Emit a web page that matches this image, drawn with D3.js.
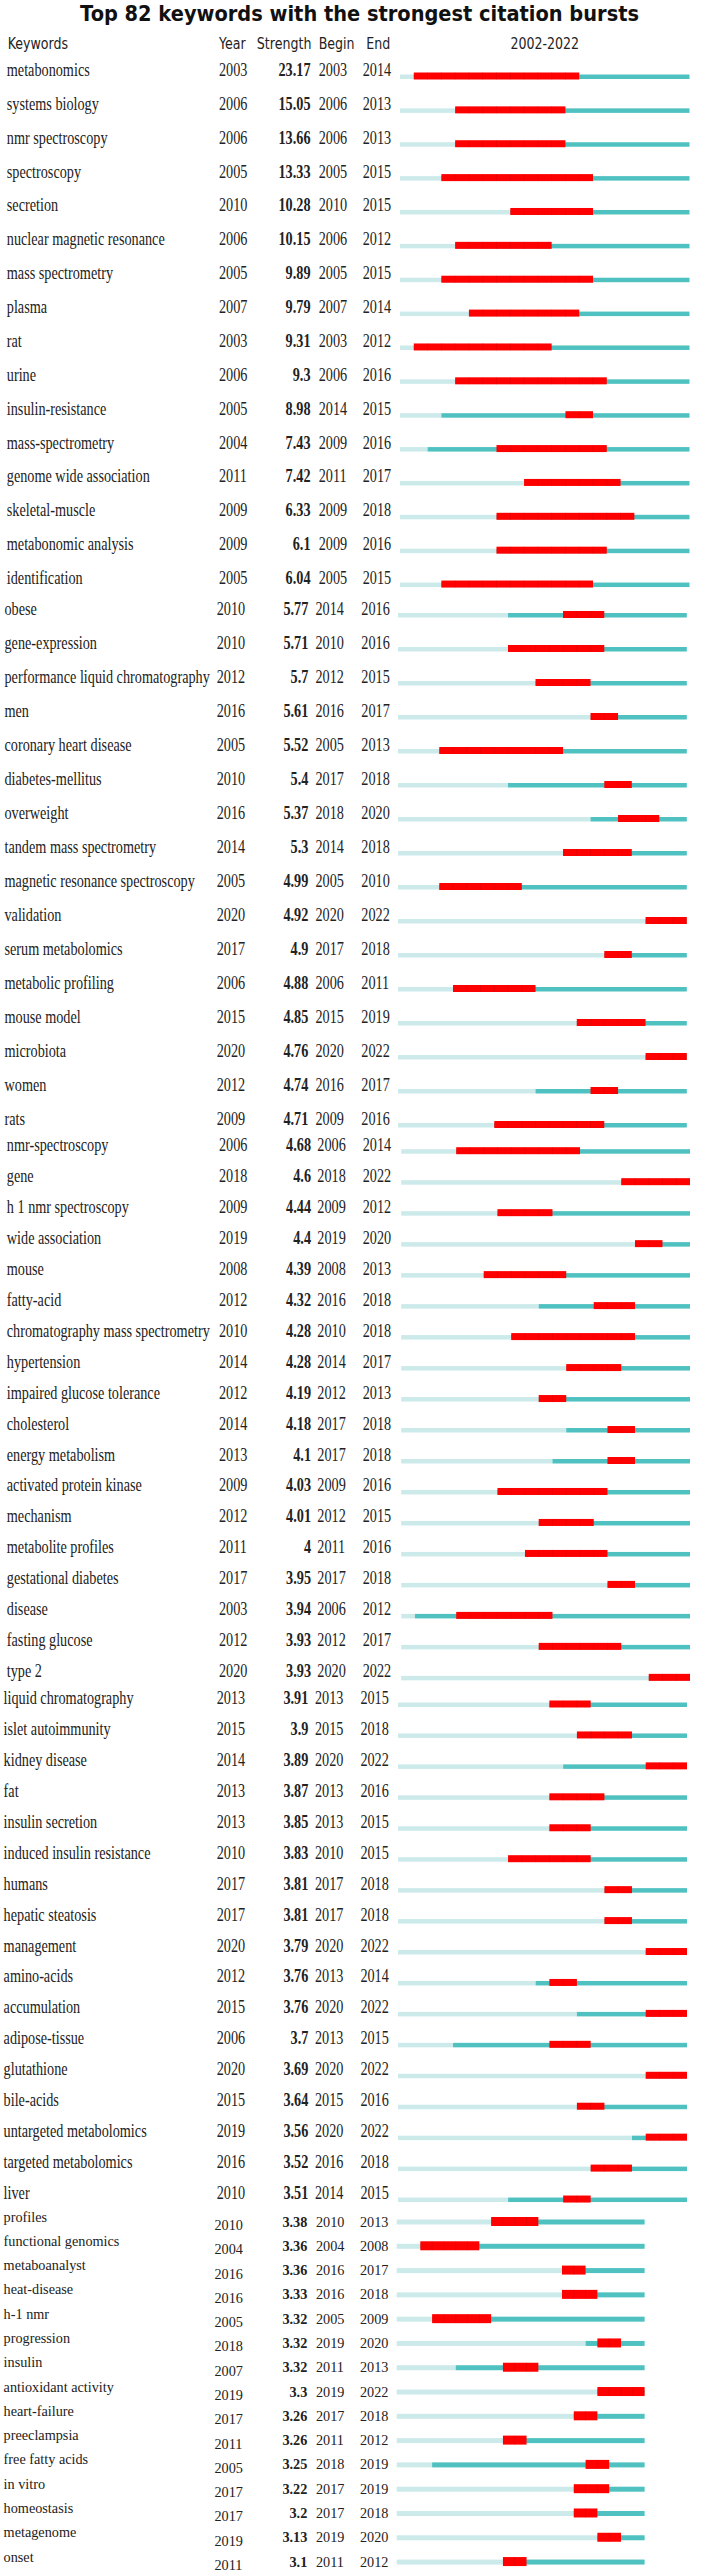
<!DOCTYPE html>
<html lang="en">
<head>
    <meta charset="utf-8">
    <title>Top 82 keywords with the strongest citation bursts</title>
    <script src="https://d3js.org/d3.v7.min.js"></script>
    <style>
        body { margin: 0; background: #fff; }
    </style>
</head>
<body>
<div id="chart"></div>
<script>
    // ---- data ----
    const title = "Top 82 keywords with the strongest citation bursts";
    const headers = ["Keywords", "Year", "Strength", "Begin", "End"];
    const firstYear = 2002, lastYear = 2022;

    const keywords = [
        "metabonomics", "systems biology", "nmr spectroscopy", "spectroscopy", "secretion",
        "nuclear magnetic resonance", "mass spectrometry", "plasma", "rat", "urine",
        "insulin-resistance", "mass-spectrometry", "genome wide association", "skeletal-muscle",
        "metabonomic analysis", "identification", "obese", "gene-expression",
        "performance liquid chromatography", "men", "coronary heart disease", "diabetes-mellitus",
        "overweight", "tandem mass spectrometry", "magnetic resonance spectroscopy", "validation",
        "serum metabolomics", "metabolic profiling", "mouse model", "microbiota", "women", "rats",
        "nmr-spectroscopy", "gene", "h 1 nmr spectroscopy", "wide association", "mouse", "fatty-acid",
        "chromatography mass spectrometry", "hypertension", "impaired glucose tolerance", "cholesterol",
        "energy metabolism", "activated protein kinase", "mechanism", "metabolite profiles",
        "gestational diabetes", "disease", "fasting glucose", "type 2", "liquid chromatography",
        "islet autoimmunity", "kidney disease", "fat", "insulin secretion", "induced insulin resistance",
        "humans", "hepatic steatosis", "management", "amino-acids", "accumulation", "adipose-tissue",
        "glutathione", "bile-acids", "untargeted metabolomics", "targeted metabolomics", "liver",
        "profiles", "functional genomics", "metaboanalyst", "heat-disease", "h-1 nmr", "progression",
        "insulin", "antioxidant activity", "heart-failure", "preeclampsia", "free fatty acids",
        "in vitro", "homeostasis", "metagenome", "onset"
    ];
    const years = [
        2003, 2006, 2006, 2005, 2010, 2006, 2005, 2007, 2003, 2006, 2005, 2004, 2011, 2009, 2009, 2005,
        2010, 2010, 2012, 2016, 2005, 2010, 2016, 2014, 2005, 2020, 2017, 2006, 2015, 2020, 2012, 2009,
        2006, 2018, 2009, 2019, 2008, 2012, 2010, 2014, 2012, 2014, 2013, 2009, 2012, 2011, 2017, 2003,
        2012, 2020, 2013, 2015, 2014, 2013, 2013, 2010, 2017, 2017, 2020, 2012, 2015, 2006, 2020, 2015,
        2019, 2016, 2010, 2010, 2004, 2016, 2016, 2005, 2018, 2007, 2019, 2017, 2011, 2005, 2017, 2017,
        2019, 2011
    ];
    const strengths = [
        23.17, 15.05, 13.66, 13.33, 10.28, 10.15, 9.89, 9.79, 9.31, 9.3, 8.98, 7.43, 7.42, 6.33, 6.1, 6.04,
        5.77, 5.71, 5.7, 5.61, 5.52, 5.4, 5.37, 5.3, 4.99, 4.92, 4.9, 4.88, 4.85, 4.76, 4.74, 4.71,
        4.68, 4.6, 4.44, 4.4, 4.39, 4.32, 4.28, 4.28, 4.19, 4.18, 4.1, 4.03, 4.01, 4, 3.95, 3.94,
        3.93, 3.93, 3.91, 3.9, 3.89, 3.87, 3.85, 3.83, 3.81, 3.81, 3.79, 3.76, 3.76, 3.7, 3.69, 3.64,
        3.56, 3.52, 3.51, 3.38, 3.36, 3.36, 3.33, 3.32, 3.32, 3.32, 3.3, 3.26, 3.26, 3.25, 3.22, 3.2,
        3.13, 3.1
    ];
    const begins = [
        2003, 2006, 2006, 2005, 2010, 2006, 2005, 2007, 2003, 2006, 2014, 2009, 2011, 2009, 2009, 2005,
        2014, 2010, 2012, 2016, 2005, 2017, 2018, 2014, 2005, 2020, 2017, 2006, 2015, 2020, 2016, 2009,
        2006, 2018, 2009, 2019, 2008, 2016, 2010, 2014, 2012, 2017, 2017, 2009, 2012, 2011, 2017, 2006,
        2012, 2020, 2013, 2015, 2020, 2013, 2013, 2010, 2017, 2017, 2020, 2013, 2020, 2013, 2020, 2015,
        2020, 2016, 2014, 2010, 2004, 2016, 2016, 2005, 2019, 2011, 2019, 2017, 2011, 2018, 2017, 2017,
        2019, 2011
    ];
    const ends = [
        2014, 2013, 2013, 2015, 2015, 2012, 2015, 2014, 2012, 2016, 2015, 2016, 2017, 2018, 2016, 2015,
        2016, 2016, 2015, 2017, 2013, 2018, 2020, 2018, 2010, 2022, 2018, 2011, 2019, 2022, 2017, 2016,
        2014, 2022, 2012, 2020, 2013, 2018, 2018, 2017, 2013, 2018, 2018, 2016, 2015, 2016, 2018, 2012,
        2017, 2022, 2015, 2018, 2022, 2016, 2015, 2015, 2018, 2018, 2022, 2014, 2022, 2015, 2022, 2016,
        2022, 2018, 2015, 2013, 2008, 2017, 2018, 2009, 2020, 2013, 2022, 2018, 2012, 2019, 2019, 2018,
        2020, 2012
    ];

    // ---- layout (the picture is stitched from several screenshots) ----
    const width = 712, height = 2574;
    const colors = {light: "#cdeaeb", teal: "#4fc1c1", red: "#ff0000", text: "#222"};

    const blocks = [
        {from: 0, to: 16, y0: 76, step: 33.87, kwX: 6.8, yearX: 219, strX: 310.5, beginX: 318.7, endX: 362.7,
            x0: 400, x1: 689.5, font: 18, sx: 0.79, kwDy: 0, yearDy: 0, numDy: 0, thinTop: -1.5, thin: 4.5, thick: 7},
        {from: 16, to: 32, y0: 614.5, step: 34, kwX: 4.5, yearX: 216.7, strX: 308.3, beginX: 315.5, endX: 361.3,
            x0: 398, x1: 686.8, font: 18, sx: 0.79, kwDy: 0, yearDy: 0, numDy: 0, thinTop: -1.5, thin: 4.5, thick: 7},
        {from: 32, to: 50, y0: 1150.7, step: 30.98, kwX: 6.8, yearX: 219, strX: 311, beginX: 317.3, endX: 362.7,
            x0: 401.2, x1: 690, font: 18, sx: 0.79, kwDy: 0, yearDy: 0, numDy: 0, thinTop: -1.5, thin: 4.5, thick: 7},
        {from: 50, to: 67, y0: 1704, step: 30.94, kwX: 3.6, yearX: 216.7, strX: 308.3, beginX: 315, endX: 360.4,
            x0: 398, x1: 687, font: 18, sx: 0.79, kwDy: 0, yearDy: 0, numDy: 0, thinTop: -1.5, thin: 4.5, thick: 7},
        {from: 67, to: 82, y0: 2221.5, step: 24.29, kwX: 3.6, yearX: 214.4, strX: 307.3, beginX: 316, endX: 360,
            x0: 396.7, x1: 644.6, font: 15, sx: 0.95, kwDy: 0, yearDy: 8.5, numDy: 5, thinTop: -2, thin: 5, thick: 9}
    ];

    const svg = d3.select("#chart")
        .append("svg")
        .attr("width", width)
        .attr("height", height)
        .style("background", "#fff");

    // squeezed text, as in the screenshot
    function label(sel, x, y, sx, anchor) {
        return sel.attr("transform", `translate(${x},${y}) scale(${sx},1)`)
            .attr("text-anchor", anchor)
            .attr("fill", colors.text);
    }

    // title
    svg.append("text")
        .attr("x", 80)
        .attr("y", 21)
        .attr("textLength", 559)
        .attr("lengthAdjust", "spacingAndGlyphs")
        .style("font-family", "'DejaVu Sans', Verdana, sans-serif")
        .style("font-weight", "bold")
        .style("font-size", "21px")
        .attr("fill", "#111")
        .text(title);

    // header row
    const head = blocks[0];
    const headPos = [
        [7.7, "start"], [head.yearX, "start"], [311.4, "end"], [head.beginX, "start"], [366.3, "start"]
    ];
    headers.forEach((h, k) => {
        label(svg.append("text"), headPos[k][0], 49, 0.765, headPos[k][1])
            .style("font-family", "'DejaVu Sans', Tahoma, sans-serif")
            .style("font-size", "16.5px")
            .text(h);
    });
    label(svg.append("text"), (head.x0 + head.x1) / 2, 49, 0.765, "middle")
        .style("font-family", "'DejaVu Sans', Tahoma, sans-serif")
        .style("font-size", "16.5px")
        .text(`${firstYear}-${lastYear}`);

    // rows
    blocks.forEach(b => {
        const idx = d3.range(b.from, b.to);
        const x = d3.scaleLinear().domain([firstYear, lastYear + 1]).range([b.x0, b.x1]);
        const y = d3.scaleLinear().domain([b.from, b.to - 1])
            .range([b.y0, b.y0 + (b.to - 1 - b.from) * b.step]);

        const row = svg.append("g").selectAll("g")
            .data(idx)
            .join("g")
            .attr("transform", i => `translate(0,${y(i)})`);

        // before the keyword appeared
        row.append("rect")
            .attr("x", x(firstYear))
            .attr("y", b.thinTop)
            .attr("width", i => x(years[i]) - x(firstYear))
            .attr("height", b.thin)
            .attr("fill", colors.light);

        // keyword present
        row.append("rect")
            .attr("x", i => x(years[i]))
            .attr("y", b.thinTop)
            .attr("width", i => x(lastYear + 1) - x(years[i]))
            .attr("height", b.thin)
            .attr("fill", colors.teal);

        // burst
        row.append("rect")
            .attr("x", i => x(begins[i]))
            .attr("y", -b.thick / 2)
            .attr("width", i => x(ends[i] + 1) - x(begins[i]))
            .attr("height", b.thick)
            .attr("fill", colors.red);

        // faint year seams inside the burst
        row.selectAll("line")
            .data(i => d3.range(begins[i] + 1, ends[i] + 1))
            .join("line")
            .attr("x1", d => x(d))
            .attr("x2", d => x(d))
            .attr("y1", -b.thick / 2)
            .attr("y2", b.thick / 2)
            .attr("stroke", "#c40000")
            .attr("stroke-opacity", 0.45)
            .attr("stroke-width", 0.7);

        const serif = "'Liberation Serif', 'Times New Roman', serif";

        label(row.append("text"), b.kwX, b.kwDy, b.sx, "start")
            .style("font-family", serif)
            .style("font-size", b.font + "px")
            .text(i => keywords[i]);

        label(row.append("text"), b.yearX, b.yearDy, b.sx, "start")
            .style("font-family", serif)
            .style("font-size", b.font + "px")
            .text(i => years[i]);

        label(row.append("text"), b.strX, b.numDy, b.sx, "end")
            .style("font-family", serif)
            .style("font-size", b.font + "px")
            .style("font-weight", "bold")
            .text(i => String(strengths[i]));

        label(row.append("text"), b.beginX, b.numDy, b.sx, "start")
            .style("font-family", serif)
            .style("font-size", b.font + "px")
            .text(i => begins[i]);

        label(row.append("text"), b.endX, b.numDy, b.sx, "start")
            .style("font-family", serif)
            .style("font-size", b.font + "px")
            .text(i => ends[i]);
    });
</script>
</body>
</html>
